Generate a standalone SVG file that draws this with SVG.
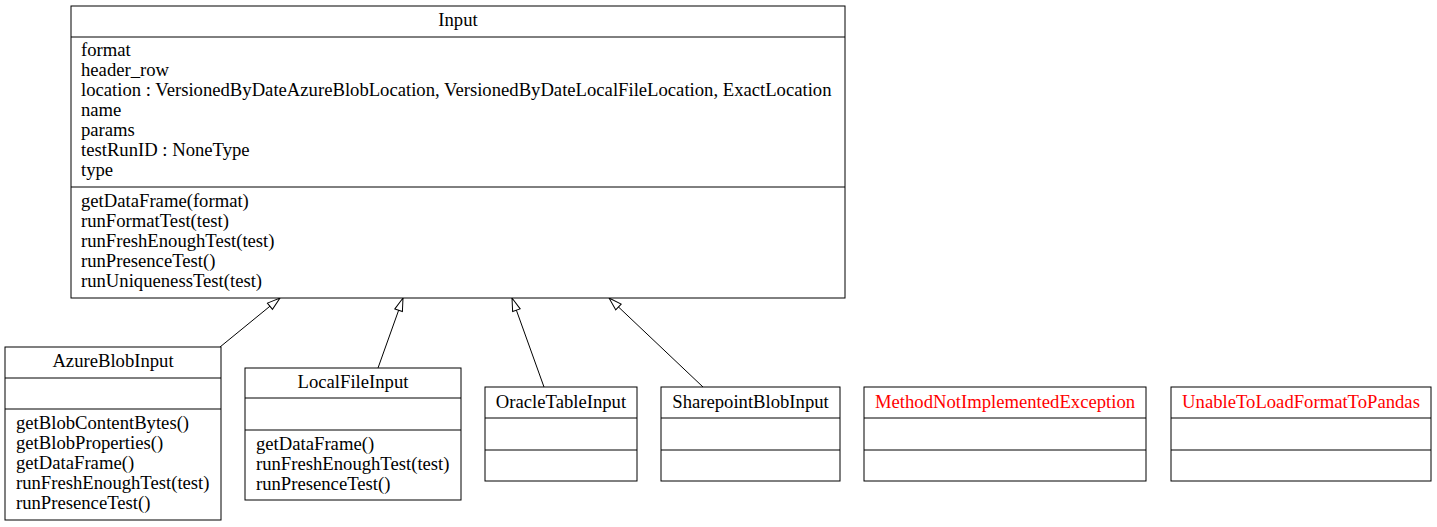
<svg xmlns="http://www.w3.org/2000/svg" width="1437" height="527" viewBox="0 0 1437 527">
<style>
text{font-family:"Liberation Serif","Times New Roman",serif;font-size:18.67px;fill:#000}
.c{text-anchor:middle}
.red{fill:#ff0000}
.box{fill:#fff;stroke:#000;stroke-width:1}
.sep{stroke:#000;stroke-width:1}
.edge{stroke:#000;stroke-width:1;fill:none}
</style>
<defs>
<marker id="tri" viewBox="0 0 15 10" refX="14" refY="5" markerWidth="15" markerHeight="10" markerUnits="userSpaceOnUse" orient="auto">
<path d="M1,1 L14,5 L1,9 Z" fill="#fff" stroke="#000" stroke-width="1"/>
</marker>
</defs>
<rect width="1437" height="527" fill="#fff"/>
<g id="connectors">
<line class="edge" x1="220" y1="347" x2="280" y2="298" marker-end="url(#tri)"/>
<line class="edge" x1="378" y1="368" x2="403" y2="298" marker-end="url(#tri)"/>
<line class="edge" x1="544" y1="387" x2="512" y2="298" marker-end="url(#tri)"/>
<line class="edge" x1="703" y1="387" x2="609" y2="298" marker-end="url(#tri)"/>
</g>
<g id="Input">
<rect class="box" x="71" y="6" width="774" height="292"/>
<line class="sep" x1="71" y1="37" x2="845" y2="37"/>
<line class="sep" x1="71" y1="187" x2="845" y2="187"/>
<text class="c" x="458" y="26">Input</text>
<text x="81" y="56">format</text>
<text x="81" y="76">header_row</text>
<text x="81" y="96">location : VersionedByDateAzureBlobLocation, VersionedByDateLocalFileLocation, ExactLocation</text>
<text x="81" y="116">name</text>
<text x="81" y="136">params</text>
<text x="81" y="156">testRunID : NoneType</text>
<text x="81" y="176">type</text>
<text x="81" y="207">getDataFrame(format)</text>
<text x="81" y="227">runFormatTest(test)</text>
<text x="81" y="247">runFreshEnoughTest(test)</text>
<text x="81" y="267">runPresenceTest()</text>
<text x="81" y="287">runUniquenessTest(test)</text>
</g>
<g id="AzureBlobInput">
<rect class="box" x="5" y="347" width="216" height="173"/>
<line class="sep" x1="5" y1="378" x2="221" y2="378"/>
<line class="sep" x1="5" y1="409" x2="221" y2="409"/>
<text class="c" x="113" y="367">AzureBlobInput</text>
<text x="16" y="429">getBlobContentBytes()</text>
<text x="16" y="449">getBlobProperties()</text>
<text x="16" y="469">getDataFrame()</text>
<text x="16" y="489">runFreshEnoughTest(test)</text>
<text x="16" y="509">runPresenceTest()</text>
</g>
<g id="LocalFileInput">
<rect class="box" x="245" y="368" width="216" height="132"/>
<line class="sep" x1="245" y1="398" x2="461" y2="398"/>
<line class="sep" x1="245" y1="430" x2="461" y2="430"/>
<text class="c" x="353" y="388">LocalFileInput</text>
<text x="256" y="450">getDataFrame()</text>
<text x="256" y="470">runFreshEnoughTest(test)</text>
<text x="256" y="490">runPresenceTest()</text>
</g>
<g id="OracleTableInput">
<rect class="box" x="485" y="387" width="152" height="94"/>
<line class="sep" x1="485" y1="418" x2="637" y2="418"/>
<line class="sep" x1="485" y1="450" x2="637" y2="450"/>
<text class="c" x="561" y="408">OracleTableInput</text>
</g>
<g id="SharepointBlobInput">
<rect class="box" x="661" y="387" width="179" height="94"/>
<line class="sep" x1="661" y1="418" x2="840" y2="418"/>
<line class="sep" x1="661" y1="450" x2="840" y2="450"/>
<text class="c" x="750.5" y="408">SharepointBlobInput</text>
</g>
<g id="MethodNotImplementedException">
<rect class="box" x="864" y="387" width="282" height="94"/>
<line class="sep" x1="864" y1="418" x2="1146" y2="418"/>
<line class="sep" x1="864" y1="450" x2="1146" y2="450"/>
<text class="c red" x="1005" y="408">MethodNotImplementedException</text>
</g>
<g id="UnableToLoadFormatToPandas">
<rect class="box" x="1171" y="387" width="260" height="94"/>
<line class="sep" x1="1171" y1="418" x2="1431" y2="418"/>
<line class="sep" x1="1171" y1="450" x2="1431" y2="450"/>
<text class="c red" x="1301" y="408">UnableToLoadFormatToPandas</text>
</g>
</svg>
